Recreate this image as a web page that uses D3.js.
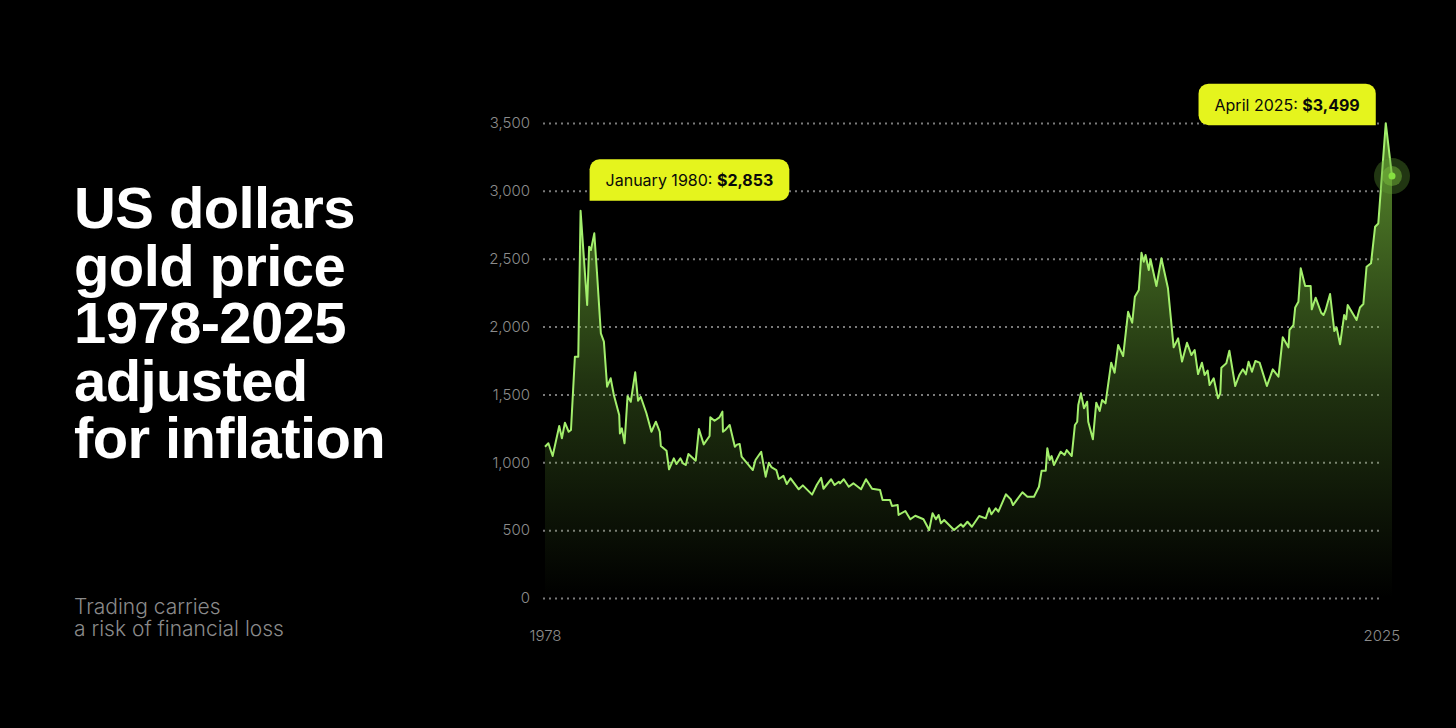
<!DOCTYPE html>
<html>
<head>
<meta charset="utf-8">
<script src="https://cdn.jsdelivr.net/npm/d3@7"></script>
<style>
  html, body { margin: 0; padding: 0; background: #000; }
  svg { display: block; }
</style>
</head>
<body>
<div id="chart"></div>
<script>
// gold price in USD, adjusted for inflation
var years = [
  1978.00, 1978.19, 1978.43, 1978.80, 1978.95, 1979.12, 1979.33, 1979.46, 1979.68, 1979.87,
  1980.00, 1980.37, 1980.48, 1980.58, 1980.77, 1980.92, 1981.14, 1981.31, 1981.49, 1981.69,
  1981.87, 1982.17, 1982.21, 1982.32, 1982.47, 1982.64, 1982.82, 1983.07, 1983.23, 1983.38,
  1983.70, 1983.98, 1984.23, 1984.45, 1984.51, 1984.83, 1984.97, 1985.24, 1985.39, 1985.61,
  1985.76, 1985.91, 1986.06, 1986.47, 1986.65, 1986.92, 1987.25, 1987.29, 1987.53, 1987.80,
  1987.97, 1988.00, 1988.15, 1988.38, 1988.67, 1988.79, 1988.94, 1989.05, 1989.68, 1989.83,
  1990.15, 1990.40, 1990.58, 1990.72, 1991.00, 1991.14, 1991.40, 1991.59, 1991.80, 1992.26,
  1992.49, 1993.01, 1993.27, 1993.52, 1993.65, 1994.08, 1994.27, 1994.51, 1994.58, 1994.79,
  1995.07, 1995.33, 1995.76, 1996.04, 1996.38, 1996.83, 1996.97, 1997.39, 1997.50, 1997.82,
  1997.87, 1998.25, 1998.53, 1998.81, 1999.27, 1999.59, 1999.78, 1999.97, 2000.12, 2000.25,
  2000.43, 2000.99, 2001.37, 2001.50, 2001.74, 2001.99, 2002.40, 2002.77, 2002.96, 2003.09,
  2003.33, 2003.48, 2003.90, 2004.18, 2004.30, 2004.83, 2005.11, 2005.48, 2005.76, 2005.91,
  2006.14, 2006.23, 2006.36, 2006.47, 2006.60, 2006.98, 2007.20, 2007.32, 2007.60, 2007.78,
  2007.91, 2007.97, 2008.12, 2008.29, 2008.47, 2008.53, 2008.79, 2008.98, 2009.17, 2009.31,
  2009.50, 2009.82, 2010.01, 2010.21, 2010.49, 2010.77, 2011.00, 2011.15, 2011.37, 2011.52,
  2011.65, 2011.75, 2011.93, 2012.03, 2012.36, 2012.64, 2013.01, 2013.33, 2013.58, 2013.80,
  2014.08, 2014.33, 2014.51, 2014.70, 2014.92, 2015.07, 2015.24, 2015.35, 2015.58, 2015.82,
  2015.95, 2016.01, 2016.29, 2016.46, 2016.79, 2017.02, 2017.22, 2017.39, 2017.54, 2017.73,
  2017.92, 2018.16, 2018.57, 2018.90, 2019.22, 2019.46, 2019.78, 2019.84, 2020.06, 2020.16,
  2020.34, 2020.47, 2020.72, 2021.03, 2021.09, 2021.31, 2021.62, 2021.75, 2021.87, 2022.12,
  2022.36, 2022.49, 2022.68, 2022.91, 2023.02, 2023.11, 2023.61, 2023.80, 2023.99, 2024.17,
  2024.42, 2024.65, 2024.83, 2025.25, 2025.60
];
var prices = [
  1115, 1140, 1046, 1267, 1177, 1292, 1225, 1238, 1778, 1778,
  2853, 2159, 2588, 2564, 2687, 2400, 1950, 1889, 1557, 1619,
  1496, 1348, 1213, 1250, 1140, 1488, 1446, 1663, 1454, 1483,
  1361, 1225, 1299, 1225, 1120, 1085, 948, 1029, 987, 1029,
  992, 980, 1061, 1012, 1245, 1132, 1194, 1331, 1306, 1331,
  1373, 1225, 1240, 1275, 1115, 1130, 1135, 1041, 943, 1017,
  1078, 894, 997, 965, 943, 877, 900, 840, 882, 801,
  830, 762, 833, 885, 805, 875, 833, 857, 845, 875,
  820, 845, 801, 875, 805, 796, 722, 722, 678, 685,
  612, 641, 580, 606, 580, 501, 624, 580, 612, 550,
  575, 501, 543, 525, 562, 525, 604, 587, 661, 617,
  661, 636, 764, 727, 685, 779, 746, 746, 820, 938,
  938, 1103, 1017, 1046, 980, 1078, 1054, 1090, 1046, 1275,
  1299, 1422, 1508, 1398, 1446, 1299, 1169, 1439, 1378, 1459,
  1434, 1734, 1660, 1864, 1783, 2109, 2028, 2220, 2269, 2544,
  2478, 2527, 2417, 2496, 2299, 2503, 2282, 1847, 1913, 1742,
  1881, 1790, 1827, 1650, 1734, 1643, 1675, 1569, 1619, 1472,
  1508, 1697, 1729, 1822, 1562, 1643, 1685, 1648, 1741, 1667,
  1746, 1734, 1562, 1685, 1631, 1921, 1847, 1975, 2011, 2141,
  2183, 2429, 2299, 2299, 2127, 2213, 2102, 2085, 2122, 2240,
  1967, 1992, 1869, 2085, 2053, 2159, 2048, 2141, 2166, 2441,
  2466, 2736, 2760, 3499, 3109
];
var yTicks = [0, 500, 1000, 1500, 2000, 2500, 3000, 3500];
var xTicks = [1978, 2025];
var titleLines = ["US dollars", "gold price", "1978-2025", "adjusted", "for inflation"];
var noteLines = ["Trading carries", "a risk of financial loss"];
var calloutLabels = ["January 1980: ", "April 2025: "];
var calloutValues = ["$2,853", "$3,499"];
var calloutYears = [1980.00, 2025.25];
var calloutPrices = [2853, 3499];

var W = 1456, H = 728,
    plotLeft = 545, plotRight = 1392, plotTop = 123, plotBottom = 598,
    gridStart = 543, gridEnd = 1383;

var data = years.map(function(d, i) { return { year: d, price: prices[i] }; });

var svg = d3.select("#chart").append("svg")
  .attr("width", W)
  .attr("height", H);

svg.append("rect").attr("width", W).attr("height", H).attr("fill", "#000");

var x = d3.scaleLinear().domain([1978, 2025.6]).range([plotLeft, plotRight]);
var y = d3.scaleLinear().domain([0, 3500]).range([plotBottom, plotTop]);

// title
var title = svg.append("text")
  .attr("fill", "#fff")
  .style("font-family", "'Liberation Sans', Arial, sans-serif")
  .style("font-weight", 700)
  .style("font-size", "58px")
  .style("letter-spacing", "-0.6px");
title.selectAll("tspan")
  .data(titleLines)
  .enter().append("tspan")
  .attr("x", 74)
  .attr("y", function(d, i) { return 228.3 + i * 57.5; })
  .text(function(d) { return d; });

// disclaimer
var note = svg.append("text")
  .attr("fill", "#8a8a8a")
  .style("font-family", "Inter, sans-serif")
  .style("font-weight", 300)
  .style("font-size", "21px");
note.selectAll("tspan")
  .data(noteLines)
  .enter().append("tspan")
  .attr("x", 74)
  .attr("y", function(d, i) { return 614 + i * 22; })
  .text(function(d) { return d; });

// dotted grid + y labels
var yAxis = d3.axisLeft(y)
  .tickValues(yTicks)
  .tickSize(-(gridEnd - gridStart))
  .tickPadding(13)
  .tickFormat(d3.format(","));

var gy = svg.append("g")
  .attr("transform", "translate(" + gridStart + ",0)")
  .call(yAxis);
gy.select(".domain").remove();
gy.selectAll(".tick line")
  .attr("stroke", "#7a7a7a")
  .attr("stroke-width", 2)
  .attr("stroke-dasharray", "2,4");
gy.selectAll(".tick text")
  .attr("fill", "#8c8c8c")
  .style("font-family", "Inter, sans-serif")
  .style("font-weight", 300)
  .style("font-size", "15px");

var xAxis = d3.axisBottom(x)
  .tickValues(xTicks)
  .tickSize(0)
  .tickPadding(32)
  .tickFormat(d3.format("d"));

var gx = svg.append("g")
  .attr("transform", "translate(0," + plotBottom + ")")
  .call(xAxis);
gx.select(".domain").remove();
gx.selectAll(".tick text")
  .attr("fill", "#8c8c8c")
  .style("font-family", "Inter, sans-serif")
  .style("font-weight", 300)
  .style("font-size", "15px");

// area gradient
var grad = svg.append("defs").append("linearGradient")
  .attr("id", "fade")
  .attr("gradientUnits", "userSpaceOnUse")
  .attr("x1", 0).attr("x2", 0)
  .attr("y1", plotTop).attr("y2", plotBottom);
grad.append("stop").attr("offset", 0).attr("stop-color", "#7cc23e").attr("stop-opacity", 0.72);
grad.append("stop").attr("offset", 0.55).attr("stop-color", "#7cc23e").attr("stop-opacity", 0.26);
grad.append("stop").attr("offset", 1).attr("stop-color", "#7cc23e").attr("stop-opacity", 0);

var area = d3.area()
  .x(function(d) { return x(d.year); })
  .y0(y(0))
  .y1(function(d) { return y(d.price); });

var line = d3.line()
  .x(function(d) { return x(d.year); })
  .y(function(d) { return y(d.price); });

svg.append("path")
  .datum(data)
  .attr("d", area)
  .attr("fill", "url(#fade)");

svg.append("path")
  .datum(data)
  .attr("d", line)
  .attr("fill", "none")
  .attr("stroke", "#a3ef6c")
  .attr("stroke-width", 2)
  .attr("stroke-linejoin", "round");

// end marker
var last = data[data.length - 1];
var marker = svg.append("g")
  .attr("transform", "translate(" + x(last.year) + "," + y(last.price) + ")");
marker.append("circle").attr("r", 18).attr("fill", "#5f9a35").attr("fill-opacity", 0.35);
marker.append("circle").attr("r", 10).attr("fill", "#7cc23e").attr("fill-opacity", 0.45);
marker.append("circle").attr("r", 3.5).attr("fill", "#86e040");

// callout boxes
function boxPath(w, h, r, sharp) {
  var c = { tl: r, tr: r, br: r, bl: r };
  c[sharp] = 0;
  var p = "M" + c.tl + ",0H" + (w - c.tr);
  if (c.tr) p += "A" + c.tr + "," + c.tr + " 0 0 1 " + w + "," + c.tr;
  p += "V" + (h - c.br);
  if (c.br) p += "A" + c.br + "," + c.br + " 0 0 1 " + (w - c.br) + "," + h;
  p += "H" + c.bl;
  if (c.bl) p += "A" + c.bl + "," + c.bl + " 0 0 1 0," + (h - c.bl);
  p += "V" + c.tl;
  if (c.tl) p += "A" + c.tl + "," + c.tl + " 0 0 1 " + c.tl + ",0";
  return p + "Z";
}

var boxH = 41.5, pad = 16;
calloutLabels.forEach(function(label, i) {
  var px = x(calloutYears[i]), py = y(calloutPrices[i]);
  var g = svg.append("g");
  var box = g.append("path").attr("fill", "#e5f41d");
  var t = g.append("text")
    .attr("fill", "#0a0a0a")
    .style("font-family", "Inter, sans-serif")
    .style("font-size", "16px");
  t.append("tspan").style("font-weight", 400).text(label);
  t.append("tspan").style("font-weight", 700).text(calloutValues[i]);
  var w = t.node().getComputedTextLength() + pad * 2;
  var bx, by;
  if (i === 0) {
    bx = px + 9; by = py - 10 - boxH;
    box.attr("d", boxPath(w, boxH, 10, "bl"));
  } else {
    bx = px - 10 - w; by = py + 2 - boxH;
    box.attr("d", boxPath(w, boxH, 10, "br"));
  }
  g.attr("transform", "translate(" + bx + "," + by + ")");
  t.attr("x", pad).attr("y", boxH - 14.6);
});
</script>
</body>
</html>
